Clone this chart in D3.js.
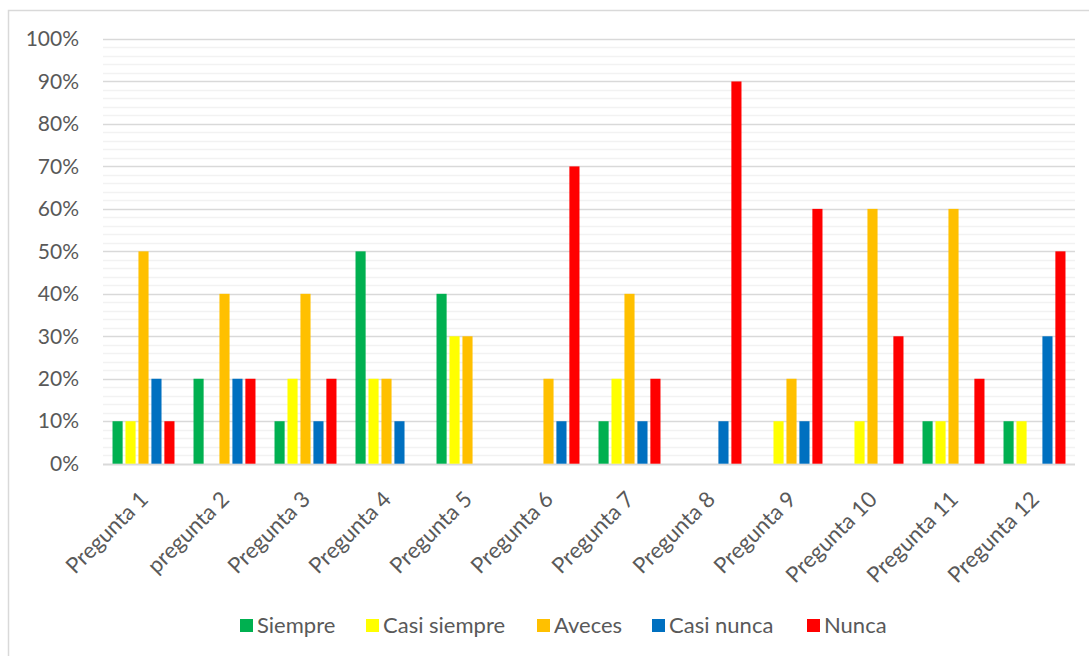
<!DOCTYPE html>
<html>
<head>
<meta charset="utf-8">
<script src="https://cdn.jsdelivr.net/npm/d3@7"></script>
<style>
  body { margin: 0; background: #fff; }
  text { font-family: Lato, "Liberation Sans", sans-serif; fill: #595959; }
</style>
</head>
<body>
<div id="chart"></div>
<script>
// data
var categories = ["Pregunta 1", "pregunta 2", "Pregunta 3", "Pregunta 4", "Pregunta 5", "Pregunta 6",
  "Pregunta 7", "Pregunta 8", "Pregunta 9", "Pregunta 10", "Pregunta 11", "Pregunta 12"];
var seriesNames = ["Siempre", "Casi siempre", "Aveces", "Casi nunca", "Nunca"];
var seriesColors = ["#00b050", "#ffff00", "#ffc000", "#0070c0", "#ff0000"];
var siempre     = [0.1, 0.2, 0.1, 0.5, 0.4, 0,   0.1, 0,   0,   0,   0.1, 0.1];
var casiSiempre = [0.1, 0,   0.2, 0.2, 0.3, 0,   0.2, 0,   0.1, 0.1, 0.1, 0.1];
var aveces      = [0.5, 0.4, 0.4, 0.2, 0.3, 0.2, 0.4, 0,   0.2, 0.6, 0.6, 0];
var casiNunca   = [0.2, 0.2, 0.1, 0.1, 0,   0.1, 0.1, 0.1, 0.1, 0,   0,   0.3];
var nunca       = [0.1, 0.2, 0.2, 0,   0,   0.7, 0.2, 0.9, 0.6, 0.3, 0.2, 0.5];
var yTicks = [0, 0.1, 0.2, 0.3, 0.4, 0.5, 0.6, 0.7, 0.8, 0.9, 1];

var seriesValues = [siempre, casiSiempre, aveces, casiNunca, nunca];

var W = 1089, H = 656;
var margin = {left: 103, right: 14, top: 39, bottom: 192};

var svg = d3.select("#chart").append("svg")
  .attr("width", W)
  .attr("height", H);

// outer chart border (cut off on the right and bottom)
svg.append("rect")
  .attr("x", 8.5).attr("y", 10.5)
  .attr("width", W + 20).attr("height", H + 20)
  .attr("fill", "#fff")
  .attr("stroke", "#d9d9d9")
  .attr("stroke-width", 1.5);

var x = d3.scaleBand()
  .domain(categories)
  .range([margin.left, W - margin.right])
  .paddingInner(0.235)
  .paddingOuter(0.1175);

var xs = d3.scaleBand()
  .domain(seriesNames)
  .range([0, x.bandwidth()])
  .paddingInner(0.22);

var y = d3.scaleLinear()
  .domain([0, 1])
  .range([H - margin.bottom - 0.3, margin.top]);

var x0 = margin.left, x1 = W - margin.right;

// minor gridlines every 2%
var minor = d3.range(0, 101, 2).filter(function (v) { return v % 10 !== 0; }).map(function (v) { return v / 100; });
svg.append("g").selectAll("line")
  .data(minor)
  .enter().append("line")
  .attr("x1", x0).attr("x2", x1)
  .attr("y1", function (d) { return Math.round(y(d)) + 0.5; })
  .attr("y2", function (d) { return Math.round(y(d)) + 0.5; })
  .attr("stroke", "#f2f2f2")
  .attr("stroke-width", 1.5);

// major gridlines
svg.append("g").selectAll("line")
  .data(yTicks)
  .enter().append("line")
  .attr("x1", x0).attr("x2", x1)
  .attr("y1", function (d) { return Math.round(y(d)) + 0.5; })
  .attr("y2", function (d) { return Math.round(y(d)) + 0.5; })
  .attr("stroke", "#d9d9d9")
  .attr("stroke-width", function (d) { return d === 0 ? 2 : 1.5; });

// y axis labels
var yAxis = d3.axisLeft(y)
  .tickValues(yTicks)
  .tickFormat(d3.format(".0%"))
  .tickSize(0)
  .tickPadding(24);
var gy = svg.append("g")
  .attr("transform", "translate(" + x0 + ",0)")
  .call(yAxis);
gy.select(".domain").remove();
gy.selectAll("text")
  .attr("font-size", 21)
  .attr("font-family", "Lato, 'Liberation Sans', sans-serif")
  .attr("fill", "#595959");

// bars
var groups = svg.append("g").selectAll("g")
  .data(seriesNames)
  .enter().append("g")
  .attr("fill", function (d, i) { return seriesColors[i]; });

groups.selectAll("rect")
  .data(function (s, i) {
    return seriesValues[i].map(function (v, j) { return {cat: categories[j], series: s, value: v}; });
  })
  .enter().append("rect")
  .filter(function (d) { return d.value > 0; })
  .attr("x", function (d) { return x(d.cat) + xs(d.series); })
  .attr("width", xs.bandwidth())
  .attr("y", function (d) { return y(d.value); })
  .attr("height", function (d) { return y(0) - y(d.value); });

// x axis labels, rotated
var xAxis = d3.axisBottom(x).tickSize(0).tickPadding(0);
var gx = svg.append("g")
  .attr("transform", "translate(0," + y(0) + ")")
  .call(xAxis);
gx.select(".domain").remove();
gx.selectAll("text")
  .attr("font-size", 22)
  .attr("font-family", "Lato, 'Liberation Sans', sans-serif")
  .attr("fill", "#595959")
  .attr("text-anchor", "end")
  .attr("dy", 0)
  .attr("transform", "translate(6,37) rotate(-45)");

// legend
var legendX = [240, 366, 537, 652, 807];
var legend = svg.append("g").selectAll("g")
  .data(seriesNames)
  .enter().append("g")
  .attr("transform", function (d, i) { return "translate(" + legendX[i] + ",619)"; });
legend.append("rect")
  .attr("width", 13).attr("height", 13)
  .attr("fill", function (d, i) { return seriesColors[i]; });
legend.append("text")
  .attr("x", 17)
  .attr("y", 6.5)
  .attr("dy", "0.35em")
  .attr("font-size", 22)
  .text(function (d) { return d; });
</script>
</body>
</html>
